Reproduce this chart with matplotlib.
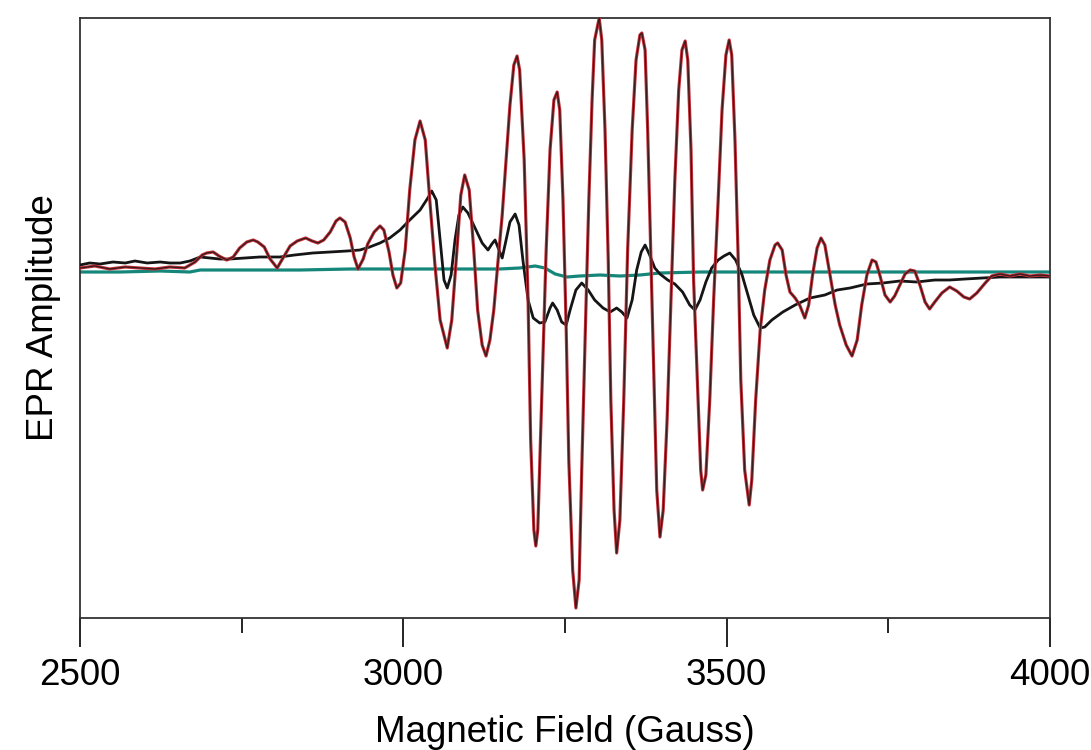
import numpy as np
import matplotlib
matplotlib.use("Agg")
import matplotlib.pyplot as plt
from matplotlib.ticker import MultipleLocator

# field (Gauss) / amplitude (a.u.)
red_field = [2500, 2523, 2546, 2570, 2593, 2616, 2639, 2662, 2678, 2689, 2696, 2706, 2715, 2727,
             2737, 2747, 2758, 2768, 2775, 2785, 2794, 2805, 2814, 2825, 2836, 2849, 2859, 2868,
             2877, 2887, 2896, 2902, 2910, 2918, 2924, 2930, 2938, 2945, 2955, 2964, 2970, 2978,
             2984, 2990, 2996, 3003, 3010, 3018, 3026, 3034, 3041, 3049, 3057, 3068, 3075, 3083,
             3089, 3095, 3102, 3109, 3115, 3122, 3128, 3134, 3140, 3146, 3153, 3159, 3165, 3171,
             3176, 3180, 3187, 3193, 3197, 3202, 3205, 3208, 3214, 3221, 3227, 3233, 3238, 3242,
             3247, 3252, 3256, 3262, 3267, 3272, 3276, 3282, 3287, 3292, 3296, 3303, 3307, 3312,
             3317, 3321, 3326, 3330, 3335, 3341, 3347, 3354, 3360, 3366, 3369, 3374, 3378, 3383,
             3388, 3392, 3397, 3402, 3408, 3414, 3420, 3426, 3431, 3436, 3440, 3445, 3449, 3456,
             3460, 3463, 3468, 3474, 3480, 3487, 3493, 3499, 3504, 3508, 3513, 3518, 3522, 3528,
             3535, 3539, 3545, 3552, 3559, 3567, 3575, 3579, 3586, 3592, 3598, 3606, 3613, 3621,
             3627, 3633, 3640, 3646, 3652, 3660, 3668, 3675, 3685, 3694, 3702, 3709, 3717, 3725,
             3731, 3737, 3745, 3753, 3760, 3768, 3776, 3784, 3791, 3799, 3807, 3814, 3822, 3833,
             3845, 3856, 3867, 3876, 3887, 3900, 3910, 3923, 3938, 3954, 3969, 3985, 4000]
red_amp = [2, 4, 1, 3, 2, 1, 3, 2, 8, 15, 17, 18, 14, 10,
           13, 22, 28, 30, 28, 23, 11, 2, 12, 24, 29, 32, 29, 27,
           30, 38, 49, 52, 48, 32, 13, 1, 11, 26, 38, 44, 40, 18,
           -5, -18, -13, 20, 80, 130, 149, 130, 70, 5, -50, -78, -50, 20,
           75, 95, 80, 20, -40, -75, -86, -70, -40, 5, 55, 110, 165, 205,
           214, 200, 110, -30, -170, -260, -276, -260, -130, 20, 120, 170, 178, 160,
           70, -60, -190, -300, -338, -310, -200, -50, 70, 170, 230, 252, 230, 140,
           10, -130, -240, -283, -250, -130, 20, 140, 210, 235, 237, 220, 140, 10,
           -120, -220, -267, -240, -150, -30, 90, 180, 220, 229, 210, 120, -10, -130,
           -200, -220, -205, -130, -30, 70, 160, 215, 230, 215, 130, 10, -110, -200,
           -235, -210, -130, -60, -20, 10, 25, 27, 20, -5, -22, -28, -35, -48,
           -35, -5, 22, 32, 25, -5, -35, -55, -75, -86, -70, -35, -5, 10,
           8, -5, -25, -32, -26, -15, -4, 0, -1, -15, -32, -39, -32, -23,
           -17, -21, -27, -29, -23, -13, -6, -4, -6, -4, -6, -5, -6]

black_field = [2500, 2515, 2531, 2551, 2570, 2585, 2604, 2624, 2639, 2655, 2670, 2686, 2701, 2716,
               2732, 2755, 2778, 2809, 2832, 2860, 2887, 2913, 2933, 2948, 2964, 2979, 2995, 3010,
               3026, 3038, 3044, 3051, 3057, 3063, 3068, 3074, 3080, 3086, 3092, 3100, 3111, 3122,
               3131, 3137, 3142, 3148, 3153, 3159, 3165, 3173, 3179, 3185, 3193, 3201, 3211, 3219,
               3227, 3231, 3238, 3245, 3252, 3258, 3267, 3276, 3286, 3296, 3309, 3320, 3330, 3338,
               3346, 3354, 3361, 3368, 3374, 3381, 3389, 3397, 3409, 3420, 3432, 3443, 3451, 3459,
               3468, 3477, 3487, 3496, 3505, 3514, 3524, 3533, 3542, 3552, 3559, 3570, 3587, 3606,
               3629, 3652, 3671, 3691, 3717, 3742, 3768, 3794, 3822, 3845, 3869, 3896, 3923, 3954,
               4000]
black_amp = [5, 7, 6, 8, 7, 9, 7, 8, 7, 7, 9, 13, 12, 11,
             11, 12, 13, 13, 15, 17, 18, 19, 20, 23, 27, 32, 40, 50,
             60, 72, 79, 70, 30, -10, -18, -5, 30, 55, 63, 57, 42, 27,
             20, 26, 30, 20, 12, 30, 48, 56, 45, 10, -30, -48, -53, -52,
             -38, -33, -40, -52, -55, -40, -20, -13, -20, -30, -38, -42, -38, -42,
             -48, -30, 0, 18, 25, 15, 2, -4, -10, -14, -22, -35, -40, -30,
             -12, 2, 10, 14, 17, 10, -5, -25, -45, -58, -57, -50, -42, -35,
             -28, -25, -20, -18, -14, -13, -11, -12, -10, -10, -9, -8, -7, -7,
             -7]

teal_field = [2500, 2562, 2624, 2670, 2686, 2763, 2840, 2918, 2995, 3072, 3149, 3180, 3204, 3219,
              3235, 3253, 3273, 3304, 3335, 3366, 3397, 3459, 3550, 3650, 3750, 3850, 3950, 4000]
teal_amp = [-2, -2, -1, -2, 0, 0, 0, 1, 1, 1, 1, 2, 4, 2,
            -4, -7, -6, -5, -6, -5, -3, -2, -2, -2, -2, -2, -2, -2]

x_ticks = [2500, 3000, 3500, 4000]

plt.rcParams['font.family'] = ['Liberation Sans', 'DejaVu Sans']

fig = plt.figure(figsize=(10.91, 7.5), dpi=100)
ax = fig.add_axes([0.0733, 0.176, 0.889, 0.8])

ax.plot(teal_field, teal_amp, color='#14877a', lw=2.3, zorder=2)
ax.plot(black_field, black_amp, color='#151515', lw=2.0, zorder=3)
ax.plot(red_field, red_amp, color='#c8303a', lw=2.3, zorder=4)
ax.plot(red_field, red_amp, color='#3a1c1c', lw=1.0, zorder=5)

ax.set_xlim(2500, 4000)
ax.set_ylim(-348, 252)
ax.set_xticks(x_ticks)
ax.xaxis.set_minor_locator(MultipleLocator(250))
ax.set_yticks([])
ax.tick_params(axis='x', which='major', direction='out', length=21, width=1.2,
               pad=8, labelsize=26.5)
ax.tick_params(axis='x', which='minor', direction='out', length=11, width=1.2)
ax.tick_params(top=False, right=False)
for s in ax.spines.values():
    s.set_linewidth(1.3)
    s.set_color('#333333')

ax.set_xlabel('Magnetic Field (Gauss)', fontsize=26.5, labelpad=16)
ax.set_ylabel('EPR Amplitude', fontsize=26.5, labelpad=14)

fig.savefig('out.png', dpi=100)
